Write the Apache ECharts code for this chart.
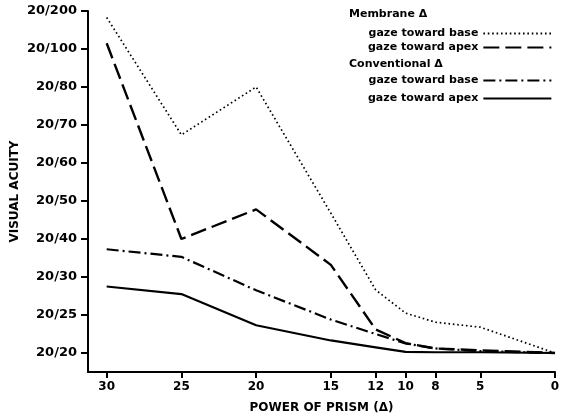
<!DOCTYPE html>
<html>
<head>
<meta charset="utf-8">
<title>Visual acuity vs power of prism</title>
<script src="https://cdn.jsdelivr.net/npm/echarts@6.0.0/dist/echarts.min.js"></script>
<style>
    html, body { margin: 0; padding: 0; background: #fff; }
    #chart { width: 562px; height: 420px; }
</style>
</head>
<body>
<div id="chart"></div>
<script>
// prism power (x) and acuity steps (y, one step per label)
var prismPower = [30, 25, 20, 15, 12, 10, 8, 5, 0];
var acuityLabels = ["20/20", "20/25", "20/30", "20/40", "20/50", "20/60", "20/70", "20/80", "20/100", "20/200"];

// values are positions on the acuity scale (0 = 20/20 ... 9 = 20/200)
var membraneBase = [8.83, 5.74, 7.0, 3.68, 1.66, 1.05, 0.81, 0.68, 0];
var membraneApex = [8.15, 3.0, 3.78, 2.32, 0.62, 0.26, 0.12, 0.07, 0];
var conventionalBase = [2.73, 2.53, 1.65, 0.88, 0.5, 0.25, 0.12, 0.05, 0];
var conventionalApex = [1.75, 1.55, 0.73, 0.33, 0.15, 0.03, 0.02, 0.02, 0];

var font = "DejaVu Sans";

function pairs(values) {
    return prismPower.map(function (p, i) {
        return [p, values[i]];
    });
}

function lineSeries(name, values, type, width) {
    return {
        name: name,
        type: "line",
        data: pairs(values),
        symbol: "none",
        color: "#000",
        lineStyle: { color: "#000", width: width, type: type },
        z: 3
    };
}

function legendBox(top, gap, names) {
    return {
        orient: "vertical",
        left: 368,
        top: top,
        padding: 0,
        align: "right",
        itemWidth: 68,
        itemHeight: 10,
        itemGap: gap,
        selectedMode: false,
        data: names,
        itemStyle: { opacity: 0 },
        formatter: function (name) {
            return name.split(", ")[1];
        },
        textStyle: { fontFamily: font, fontWeight: "bold", fontSize: 11, color: "#000" }
    };
}

var myChart = echarts.init(document.getElementById("chart"));

var option = {
    animation: false,
    backgroundColor: "#fff",
    grid: { left: 88, right: 7, top: 11, bottom: 48, outerBoundsMode: "none" },
    legend: [
        legendBox(28, 3, ["Membrane, gaze toward base", "Membrane, gaze toward apex"]),
        legendBox(75, 7, ["Conventional, gaze toward base", "Conventional, gaze toward apex"])
    ],
    graphic: [
        { type: "text", left: 349, top: 9, style: { text: "Membrane Δ", font: "bold 11px " + font, fill: "#000" } },
        { type: "text", left: 349, top: 59, style: { text: "Conventional Δ", font: "bold 11px " + font, fill: "#000" } }
    ],
    xAxis: {
        type: "value",
        inverse: true,
        min: 0,
        max: 31.25,
        name: "POWER OF PRISM (Δ)",
        nameLocation: "middle",
        nameGap: 30,
        nameMoveOverlap: false,
        nameTextStyle: { fontFamily: font, fontWeight: "bold", fontSize: 12, color: "#000" },
        splitLine: { show: false },
        axisLine: { show: true, onZero: false, lineStyle: { color: "#000", width: 2 } },
        axisTick: { show: true, length: 6, customValues: prismPower, lineStyle: { color: "#000", width: 2 } },
        axisLabel: {
            customValues: prismPower,
            margin: 9,
            fontFamily: font, fontWeight: "bold", fontSize: 12, color: "#000"
        }
    },
    yAxis: {
        type: "value",
        min: -0.5,
        max: 9,
        name: "VISUAL ACUITY",
        nameLocation: "middle",
        nameGap: 67,
        nameMoveOverlap: false,
        nameTextStyle: { fontFamily: font, fontWeight: "bold", fontSize: 12, color: "#000" },
        splitLine: { show: false },
        axisLine: { show: true, onZero: false, lineStyle: { color: "#000", width: 2 } },
        axisTick: { show: true, length: 7, customValues: [0, 1, 2, 3, 4, 5, 6, 7, 8, 9], lineStyle: { color: "#000", width: 2 } },
        axisLabel: {
            customValues: [0, 1, 2, 3, 4, 5, 6, 7, 8, 9],
            margin: 11,
            fontFamily: font, fontWeight: "bold", fontSize: 13, color: "#000",
            formatter: function (v) {
                return acuityLabels[Math.round(v)];
            }
        }
    },
    series: [
        lineSeries("Membrane, gaze toward base", membraneBase, [1.6, 2.8], 1.7),
        lineSeries("Membrane, gaze toward apex", membraneApex, [16, 6], 2.4),
        lineSeries("Conventional, gaze toward base", conventionalBase, [12, 4, 2, 4], 2.2),
        lineSeries("Conventional, gaze toward apex", conventionalApex, "solid", 2.2)
    ]
};

myChart.setOption(option);
</script>
</body>
</html>
